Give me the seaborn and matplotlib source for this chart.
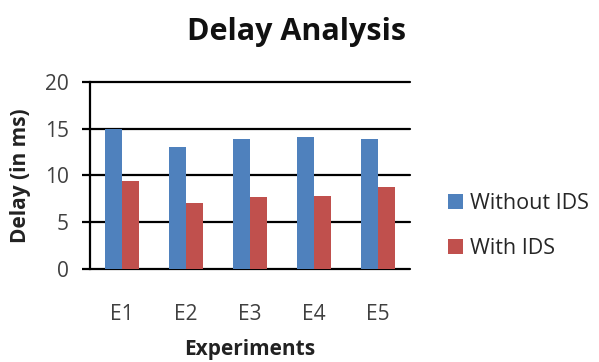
import matplotlib
matplotlib.use("Agg")
import matplotlib.pyplot as plt
import seaborn as sns
import pandas as pd

experiments = ["E1", "E2", "E3", "E4", "E5"]
without_ids = [15.0, 13.0, 13.85, 14.05, 13.85]
with_ids = [9.4, 7.0, 7.65, 7.85, 8.75]
series_names = ["Without IDS", "With IDS"]
colors = ["#4F81BD", "#C0504D"]

df = pd.DataFrame({
    "Experiment": experiments * 2,
    "Delay": without_ids + with_ids,
    "Series": [series_names[0]] * 5 + [series_names[1]] * 5,
})

sns.set_theme(style="white")
plt.rcParams["font.family"] = ["Open Sans", "DejaVu Sans"]

fig = plt.figure(figsize=(5.99, 3.62), dpi=100)
ax = fig.add_axes([0.150, 0.257, 0.534, 0.517])

sns.barplot(data=df, x="Experiment", y="Delay", hue="Series",
            palette=colors, width=0.53, ax=ax, saturation=1, legend=True,
            linewidth=0, edgecolor="none")

ax.set_ylim(0, 20)
ax.set_xlim(-0.5, 4.5)
ax.set_yticks([0, 5, 10, 15, 20])
ax.yaxis.grid(True, color="black", linewidth=1.6)
for gl in ax.get_ygridlines():
    gl.set_clip_on(False)
ax.set_axisbelow(True)
for s in ["top", "right", "bottom"]:
    ax.spines[s].set_visible(False)
ax.spines["left"].set_color("black")
ax.spines["left"].set_linewidth(1.6)
ax.tick_params(axis="y", which="major", left=True, length=6, width=1.6, color="black",
               labelsize=15, pad=9, labelcolor="#404040")
ax.tick_params(axis="x", bottom=False, labelsize=15, pad=19, labelcolor="#404040")

ax.set_xlabel("Experiments", fontsize=15, fontweight="bold", color="#222222")
ax.set_ylabel("Delay (in ms)", fontsize=15, fontweight="bold", color="#222222")
ax.xaxis.set_label_coords(0.5, -0.375)
ax.yaxis.set_label_coords(-0.185, 0.5)
fig.suptitle("Delay Analysis", x=0.495, y=0.952, fontsize=22, fontweight="bold", color="#111111")

handles, labels = ax.get_legend_handles_labels()
ax.legend_.remove()
fig.legend(handles, labels, loc="center left", bbox_to_anchor=(448 / 599, 0.376),
           bbox_transform=fig.transFigure, frameon=False, fontsize=15.5,
           labelspacing=1.1, handlelength=0.7, handleheight=0.7,
           handletextpad=0.3, borderpad=0, borderaxespad=0, labelcolor="#262626")

fig.savefig("out.png", dpi=100)
